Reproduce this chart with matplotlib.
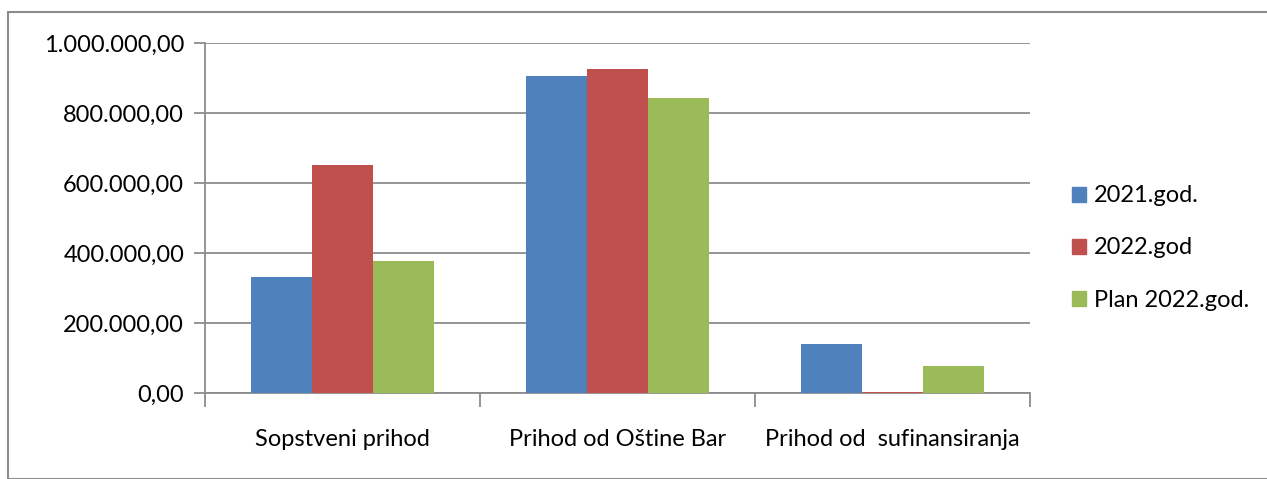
import matplotlib
matplotlib.use("Agg")
import matplotlib.pyplot as plt
from matplotlib.patches import Rectangle, Patch
from matplotlib.ticker import FuncFormatter
import numpy as np

categories = ["Sopstveni prihod", "Prihod od Oštine Bar", "Prihod od  sufinansiranja"]
series_names = ["2021.god.", "2022.god", "Plan 2022.god."]
v2021 = [332000, 908000, 139500]
v2022 = [653000, 928000, 3000]
vplan = [378000, 843000, 78000]
colors = ["#4F81BD", "#C0504D", "#9BBB59"]
yticks = [0, 200000, 400000, 600000, 800000, 1000000]

plt.rcParams['font.family'] = ['Lato', 'DejaVu Sans']
FS = 17

W, H = 1267, 479
fig = plt.figure(figsize=(W/100, H/100), dpi=100)
ax = fig.add_axes([205/W, 1-393/H, (1030-205)/W, (393-43.5)/H])

x = np.arange(len(categories))
bw = 61/275
for i, (vals, c, n) in enumerate(zip([v2021, v2022, vplan], colors, series_names)):
    ax.bar(x + (i-1)*bw, vals, width=bw, color=c, label=n, zorder=3)

ax.set_xlim(-0.5, len(categories)-0.5)
ax.set_ylim(0, 1000000)
ax.set_yticks(yticks)
def fmt(v, p):
    s = f"{int(round(v)):,}".replace(",", ".")
    return s + ",00"
ax.yaxis.set_major_formatter(FuncFormatter(fmt))
ax.grid(axis='y', color='#8C8C8C', linewidth=1.3, zorder=0)
for s in ['top', 'right']:
    ax.spines[s].set_visible(False)
for s in ['left', 'bottom']:
    ax.spines[s].set_color('#8C8C8C')
    ax.spines[s].set_linewidth(1.3)
ax.tick_params(axis='y', length=8, width=1.3, color='#8C8C8C', labelsize=FS, pad=7,
               labelcolor='black')
ax.set_xticks(x)
ax.set_xticklabels(categories, fontsize=FS)
ax.tick_params(axis='x', length=0, pad=26)
ax.set_xticks(np.arange(len(categories)+1) - 0.5, minor=True)
ax.tick_params(axis='x', which='minor', length=10, width=1.3, color='#8C8C8C')

handles = [Patch(color=c) for c in colors]
fig.legend(handles, series_names, loc='center left', bbox_to_anchor=(1051/W, 1-248/H),
           frameon=False, fontsize=FS, handlelength=0.6, handleheight=0.6,
           handletextpad=0.3, labelspacing=1.32)

fig.patches.append(Rectangle((8/W, 0), (W+20)/W, 1-12/H, transform=fig.transFigure,
                             fill=False, edgecolor='#8C8C8C', linewidth=1.5))

fig.savefig("out.png", dpi=100)
